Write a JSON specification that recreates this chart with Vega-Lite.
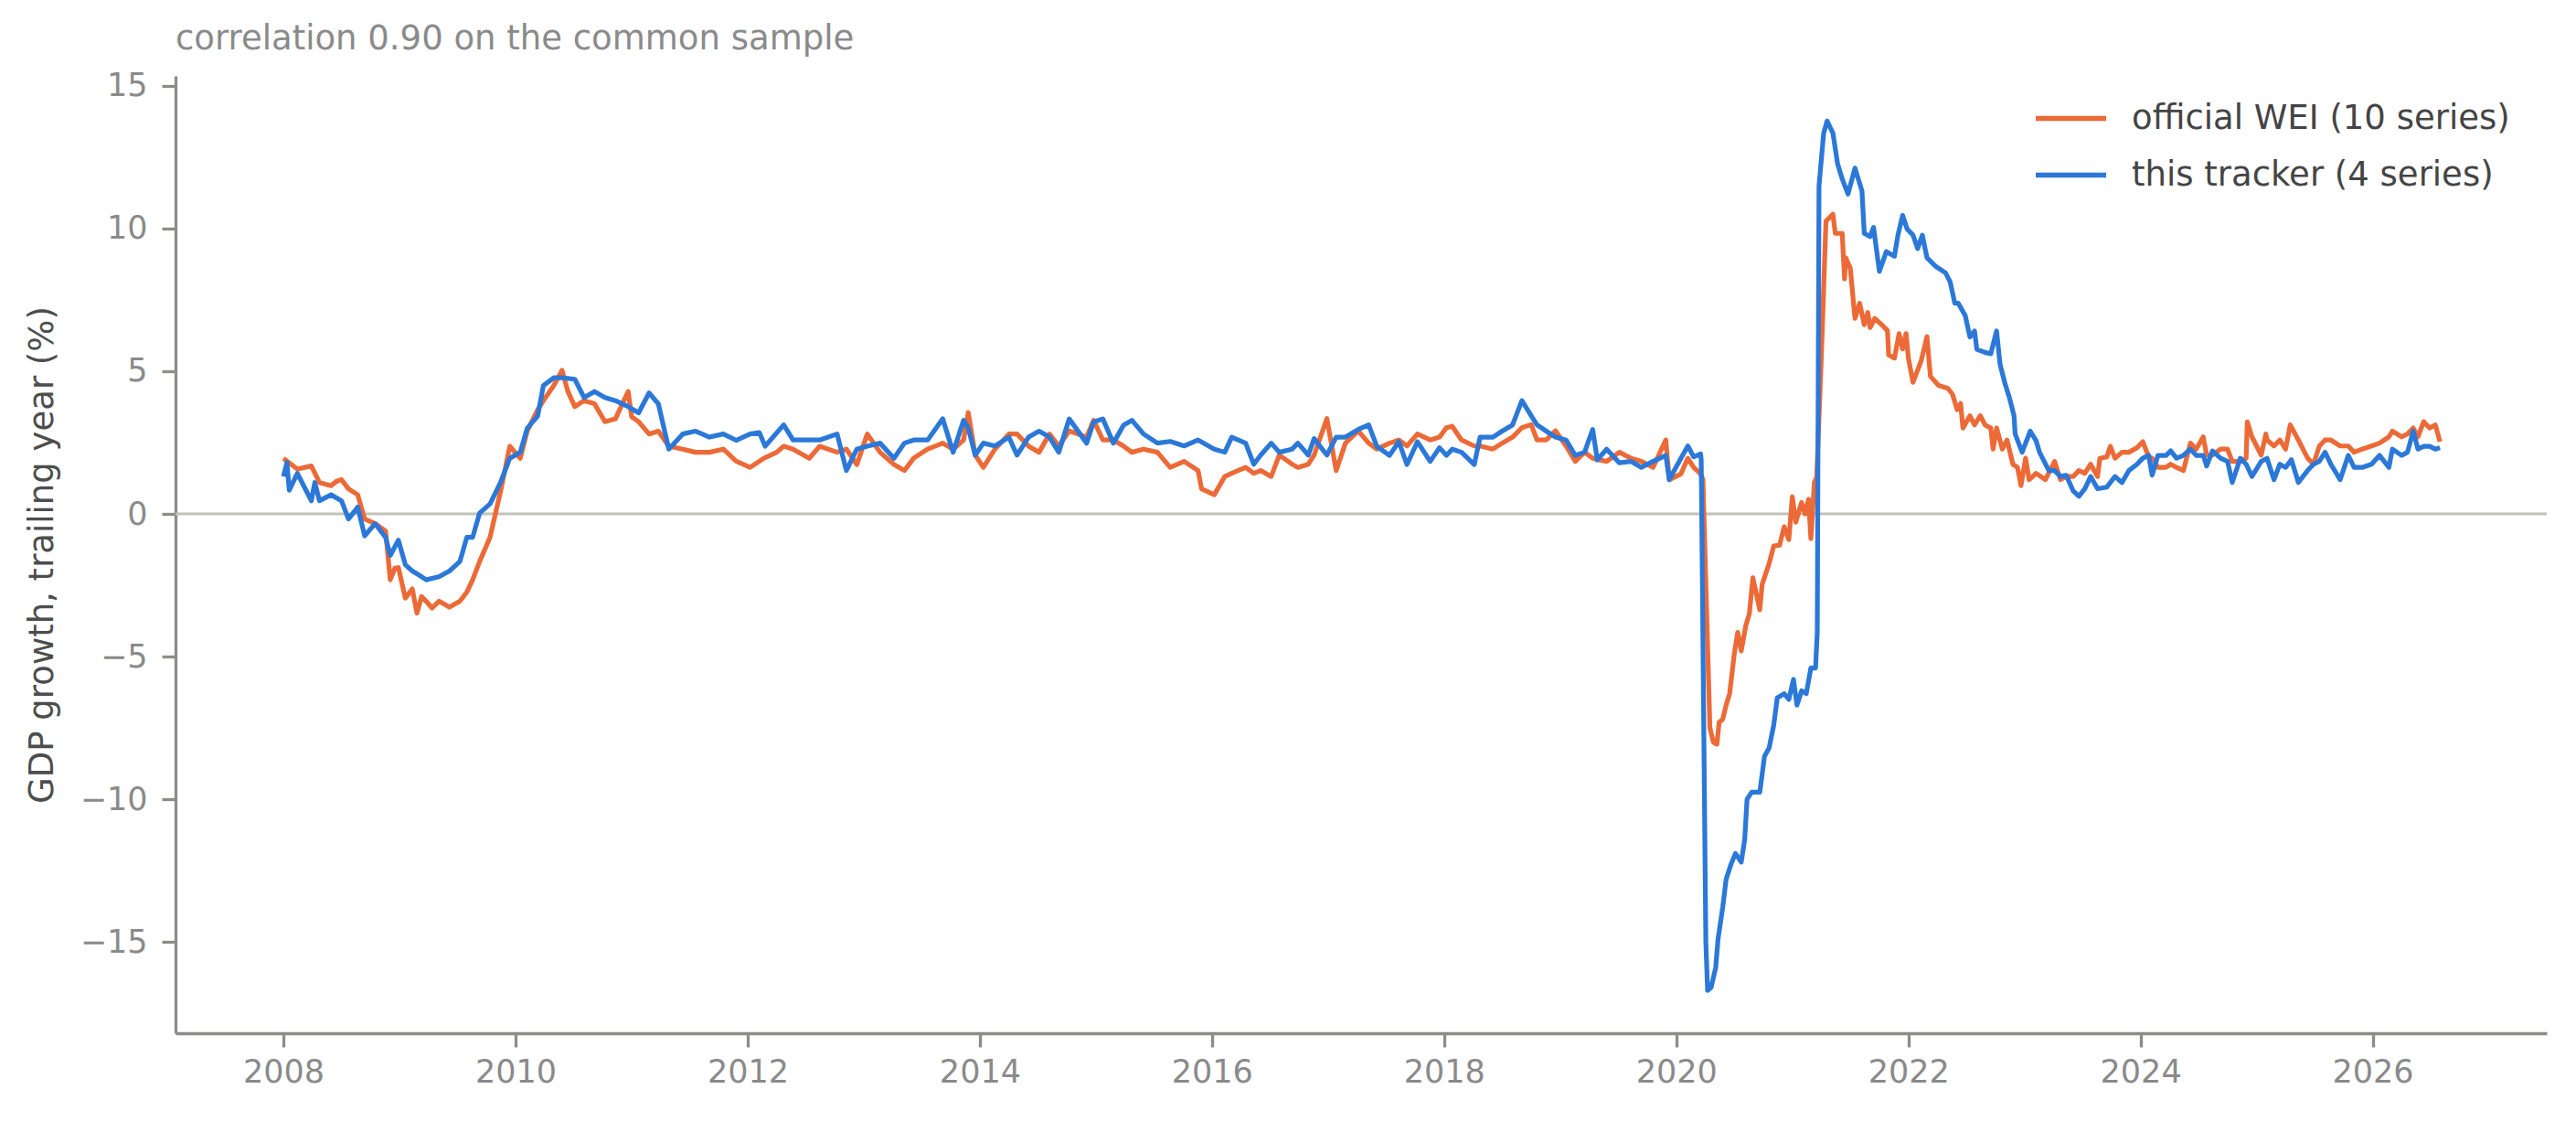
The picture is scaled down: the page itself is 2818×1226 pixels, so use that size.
{
  "$schema": "https://vega.github.io/schema/vega-lite/v6.json",
  "width": 2594,
  "height": 1047,
  "autosize": "none",
  "padding": {"left": 192, "top": 83, "right": 32, "bottom": 96},
  "background": "white",
  "title": {
    "text": "correlation 0.90 on the common sample",
    "anchor": "start",
    "frame": "group",
    "font": "DejaVu Sans",
    "fontSize": 37,
    "fontWeight": "normal",
    "color": "#8a8a8a",
    "offset": 15
  },
  "datasets": {
    "wei": [
      {"t":2008.0,"v":1.95},{"t":2008.03,"v":1.85},{"t":2008.12,"v":1.57},{"t":2008.24,"v":1.68},{"t":2008.31,"v":1.1},{"t":2008.41,"v":0.99},{"t":2008.46,"v":1.15},{"t":2008.5,"v":1.2},{"t":2008.56,"v":0.88},{"t":2008.64,"v":0.67},{"t":2008.7,"v":-0.18},{"t":2008.79,"v":-0.34},{"t":2008.88,"v":-0.6},{"t":2008.92,"v":-2.31},{"t":2008.96,"v":-1.9},{"t":2008.99,"v":-1.88},{"t":2009.05,"v":-2.95},{"t":2009.11,"v":-2.63},{"t":2009.15,"v":-3.48},{"t":2009.19,"v":-2.9},{"t":2009.23,"v":-3.06},{"t":2009.28,"v":-3.3},{"t":2009.34,"v":-3.06},{"t":2009.43,"v":-3.27},{"t":2009.52,"v":-3.06},{"t":2009.58,"v":-2.74},{"t":2009.63,"v":-2.31},{"t":2009.69,"v":-1.67},{"t":2009.78,"v":-0.82},{"t":2009.87,"v":0.78},{"t":2009.95,"v":2.37},{"t":2010.04,"v":1.95},{"t":2010.1,"v":2.9},{"t":2010.19,"v":3.65},{"t":2010.24,"v":3.97},{"t":2010.33,"v":4.5},{"t":2010.4,"v":5.03},{"t":2010.45,"v":4.3},{"t":2010.51,"v":3.76},{"t":2010.59,"v":3.97},{"t":2010.68,"v":3.86},{"t":2010.77,"v":3.23},{"t":2010.86,"v":3.33},{"t":2010.97,"v":4.29},{"t":2011.0,"v":3.4},{"t":2011.06,"v":3.23},{"t":2011.15,"v":2.8},{"t":2011.23,"v":2.9},{"t":2011.32,"v":2.37},{"t":2011.44,"v":2.27},{"t":2011.55,"v":2.16},{"t":2011.67,"v":2.16},{"t":2011.79,"v":2.27},{"t":2011.9,"v":1.85},{"t":2012.02,"v":1.63},{"t":2012.14,"v":1.95},{"t":2012.25,"v":2.16},{"t":2012.31,"v":2.37},{"t":2012.39,"v":2.27},{"t":2012.53,"v":1.95},{"t":2012.62,"v":2.37},{"t":2012.77,"v":2.16},{"t":2012.85,"v":2.27},{"t":2012.94,"v":1.73},{"t":2013.03,"v":2.8},{"t":2013.14,"v":2.16},{"t":2013.26,"v":1.73},{"t":2013.35,"v":1.52},{"t":2013.43,"v":1.95},{"t":2013.55,"v":2.27},{"t":2013.68,"v":2.48},{"t":2013.77,"v":2.27},{"t":2013.86,"v":2.59},{"t":2013.9,"v":3.55},{"t":2013.96,"v":2.06},{"t":2014.03,"v":1.63},{"t":2014.13,"v":2.27},{"t":2014.25,"v":2.8},{"t":2014.32,"v":2.8},{"t":2014.42,"v":2.37},{"t":2014.51,"v":2.16},{"t":2014.6,"v":2.8},{"t":2014.68,"v":2.37},{"t":2014.77,"v":2.91},{"t":2014.92,"v":2.69},{"t":2014.98,"v":3.28},{"t":2015.06,"v":2.59},{"t":2015.15,"v":2.59},{"t":2015.24,"v":2.37},{"t":2015.31,"v":2.16},{"t":2015.41,"v":2.27},{"t":2015.53,"v":2.16},{"t":2015.64,"v":1.63},{"t":2015.76,"v":1.84},{"t":2015.88,"v":1.52},{"t":2015.91,"v":0.88},{"t":2016.02,"v":0.67},{"t":2016.11,"v":1.31},{"t":2016.17,"v":1.42},{"t":2016.29,"v":1.63},{"t":2016.36,"v":1.42},{"t":2016.42,"v":1.52},{"t":2016.51,"v":1.31},{"t":2016.58,"v":2.06},{"t":2016.69,"v":1.74},{"t":2016.74,"v":1.63},{"t":2016.83,"v":1.74},{"t":2016.88,"v":2.06},{"t":2016.99,"v":3.34},{"t":2017.07,"v":1.52},{"t":2017.15,"v":2.48},{"t":2017.26,"v":2.91},{"t":2017.35,"v":2.48},{"t":2017.42,"v":2.27},{"t":2017.53,"v":2.48},{"t":2017.61,"v":2.59},{"t":2017.68,"v":2.38},{"t":2017.77,"v":2.8},{"t":2017.88,"v":2.59},{"t":2017.96,"v":2.69},{"t":2018.02,"v":3.02},{"t":2018.07,"v":3.07},{"t":2018.15,"v":2.59},{"t":2018.26,"v":2.38},{"t":2018.31,"v":2.38},{"t":2018.42,"v":2.27},{"t":2018.5,"v":2.48},{"t":2018.59,"v":2.69},{"t":2018.67,"v":3.02},{"t":2018.75,"v":3.13},{"t":2018.8,"v":2.59},{"t":2018.88,"v":2.59},{"t":2018.96,"v":2.91},{"t":2019.05,"v":2.38},{"t":2019.13,"v":1.84},{"t":2019.21,"v":2.16},{"t":2019.28,"v":1.95},{"t":2019.4,"v":1.84},{"t":2019.51,"v":2.16},{"t":2019.61,"v":1.95},{"t":2019.7,"v":1.84},{"t":2019.8,"v":1.63},{"t":2019.91,"v":2.59},{"t":2019.94,"v":1.2},{"t":2020.04,"v":1.4},{"t":2020.1,"v":1.95},{"t":2020.15,"v":1.63},{"t":2020.21,"v":1.4},{"t":2020.23,"v":1.2},{"t":2020.29,"v":-7.5},{"t":2020.32,"v":-8.0},{"t":2020.35,"v":-8.07},{"t":2020.37,"v":-7.3},{"t":2020.4,"v":-7.2},{"t":2020.43,"v":-6.7},{"t":2020.46,"v":-6.3},{"t":2020.5,"v":-4.9},{"t":2020.53,"v":-4.15},{"t":2020.56,"v":-4.8},{"t":2020.6,"v":-3.9},{"t":2020.63,"v":-3.5},{"t":2020.66,"v":-2.24},{"t":2020.72,"v":-3.36},{"t":2020.74,"v":-2.47},{"t":2020.8,"v":-1.74},{"t":2020.84,"v":-1.12},{"t":2020.89,"v":-1.1},{"t":2020.93,"v":-0.45},{"t":2020.97,"v":-0.9},{"t":2021.0,"v":0.6},{"t":2021.03,"v":-0.29},{"t":2021.08,"v":0.4},{"t":2021.11,"v":0.0},{"t":2021.14,"v":0.51},{"t":2021.16,"v":-0.87},{"t":2021.19,"v":1.1},{"t":2021.21,"v":1.3},{"t":2021.25,"v":5.5},{"t":2021.29,"v":10.26},{"t":2021.35,"v":10.5},{"t":2021.37,"v":9.83},{"t":2021.43,"v":9.83},{"t":2021.45,"v":8.23},{"t":2021.46,"v":8.98},{"t":2021.5,"v":8.6},{"t":2021.53,"v":7.27},{"t":2021.54,"v":6.85},{"t":2021.58,"v":7.38},{"t":2021.62,"v":6.63},{"t":2021.65,"v":7.06},{"t":2021.67,"v":6.53},{"t":2021.71,"v":6.85},{"t":2021.77,"v":6.63},{"t":2021.82,"v":6.42},{"t":2021.83,"v":5.57},{"t":2021.88,"v":5.46},{"t":2021.92,"v":6.32},{"t":2021.95,"v":5.78},{"t":2021.98,"v":6.32},{"t":2022.0,"v":5.46},{"t":2022.04,"v":4.61},{"t":2022.11,"v":5.36},{"t":2022.16,"v":6.21},{"t":2022.19,"v":4.82},{"t":2022.26,"v":4.5},{"t":2022.34,"v":4.4},{"t":2022.38,"v":4.19},{"t":2022.42,"v":3.65},{"t":2022.45,"v":3.87},{"t":2022.47,"v":3.01},{"t":2022.53,"v":3.44},{"t":2022.57,"v":3.12},{"t":2022.62,"v":3.44},{"t":2022.66,"v":3.12},{"t":2022.71,"v":3.01},{"t":2022.73,"v":2.27},{"t":2022.76,"v":3.01},{"t":2022.81,"v":2.27},{"t":2022.85,"v":2.59},{"t":2022.9,"v":1.74},{"t":2022.94,"v":1.63},{"t":2022.97,"v":0.99},{"t":2023.01,"v":1.95},{"t":2023.04,"v":1.2},{"t":2023.1,"v":1.42},{"t":2023.18,"v":1.2},{"t":2023.26,"v":1.84},{"t":2023.31,"v":1.2},{"t":2023.36,"v":1.31},{"t":2023.42,"v":1.31},{"t":2023.47,"v":1.52},{"t":2023.52,"v":1.42},{"t":2023.57,"v":1.74},{"t":2023.63,"v":1.31},{"t":2023.65,"v":1.95},{"t":2023.71,"v":2.0},{"t":2023.74,"v":2.37},{"t":2023.78,"v":1.95},{"t":2023.84,"v":2.16},{"t":2023.9,"v":2.16},{"t":2023.97,"v":2.32},{"t":2024.02,"v":2.53},{"t":2024.07,"v":2.0},{"t":2024.1,"v":1.95},{"t":2024.15,"v":1.63},{"t":2024.22,"v":1.63},{"t":2024.26,"v":1.74},{"t":2024.31,"v":1.63},{"t":2024.37,"v":1.52},{"t":2024.43,"v":2.48},{"t":2024.48,"v":2.27},{"t":2024.54,"v":2.7},{"t":2024.57,"v":2.06},{"t":2024.62,"v":2.06},{"t":2024.69,"v":2.27},{"t":2024.75,"v":2.27},{"t":2024.79,"v":1.84},{"t":2024.86,"v":1.84},{"t":2024.91,"v":1.95},{"t":2024.92,"v":3.23},{"t":2024.96,"v":2.7},{"t":2025.04,"v":2.06},{"t":2025.08,"v":2.8},{"t":2025.09,"v":2.59},{"t":2025.15,"v":2.38},{"t":2025.2,"v":2.59},{"t":2025.25,"v":2.27},{"t":2025.29,"v":3.12},{"t":2025.36,"v":2.59},{"t":2025.44,"v":1.95},{"t":2025.49,"v":1.74},{"t":2025.54,"v":2.37},{"t":2025.59,"v":2.59},{"t":2025.64,"v":2.59},{"t":2025.72,"v":2.38},{"t":2025.79,"v":2.38},{"t":2025.84,"v":2.16},{"t":2025.91,"v":2.27},{"t":2025.99,"v":2.38},{"t":2026.06,"v":2.48},{"t":2026.14,"v":2.7},{"t":2026.17,"v":2.9},{"t":2026.25,"v":2.7},{"t":2026.3,"v":2.8},{"t":2026.35,"v":3.01},{"t":2026.39,"v":2.7},{"t":2026.44,"v":3.23},{"t":2026.49,"v":3.01},{"t":2026.54,"v":3.12},{"t":2026.58,"v":2.53}
    ],
    "trk": [
      {"t":2008.0,"v":1.31},{"t":2008.03,"v":1.8},{"t":2008.05,"v":0.83},{"t":2008.12,"v":1.42},{"t":2008.24,"v":0.46},{"t":2008.27,"v":1.1},{"t":2008.31,"v":0.46},{"t":2008.41,"v":0.67},{"t":2008.5,"v":0.46},{"t":2008.56,"v":-0.18},{"t":2008.64,"v":0.24},{"t":2008.7,"v":-0.77},{"t":2008.79,"v":-0.34},{"t":2008.88,"v":-0.82},{"t":2008.92,"v":-1.46},{"t":2008.99,"v":-0.92},{"t":2009.05,"v":-1.78},{"t":2009.11,"v":-2.0},{"t":2009.15,"v":-2.1},{"t":2009.23,"v":-2.31},{"t":2009.34,"v":-2.2},{"t":2009.43,"v":-2.0},{"t":2009.52,"v":-1.67},{"t":2009.58,"v":-0.82},{"t":2009.63,"v":-0.82},{"t":2009.69,"v":0.03},{"t":2009.78,"v":0.35},{"t":2009.87,"v":1.1},{"t":2009.95,"v":1.95},{"t":2010.04,"v":2.16},{"t":2010.1,"v":3.0},{"t":2010.19,"v":3.43},{"t":2010.24,"v":4.5},{"t":2010.33,"v":4.77},{"t":2010.4,"v":4.77},{"t":2010.51,"v":4.72},{"t":2010.59,"v":4.08},{"t":2010.68,"v":4.29},{"t":2010.77,"v":4.08},{"t":2010.86,"v":3.97},{"t":2010.97,"v":3.76},{"t":2011.06,"v":3.54},{"t":2011.15,"v":4.24},{"t":2011.23,"v":3.86},{"t":2011.32,"v":2.27},{"t":2011.44,"v":2.8},{"t":2011.55,"v":2.9},{"t":2011.67,"v":2.69},{"t":2011.79,"v":2.8},{"t":2011.9,"v":2.58},{"t":2012.02,"v":2.8},{"t":2012.1,"v":2.85},{"t":2012.15,"v":2.37},{"t":2012.31,"v":3.12},{"t":2012.39,"v":2.59},{"t":2012.53,"v":2.59},{"t":2012.62,"v":2.59},{"t":2012.77,"v":2.8},{"t":2012.85,"v":1.52},{"t":2012.94,"v":2.27},{"t":2013.03,"v":2.37},{"t":2013.14,"v":2.48},{"t":2013.26,"v":1.95},{"t":2013.35,"v":2.48},{"t":2013.43,"v":2.59},{"t":2013.55,"v":2.59},{"t":2013.68,"v":3.33},{"t":2013.77,"v":2.16},{"t":2013.86,"v":3.28},{"t":2013.9,"v":3.01},{"t":2013.96,"v":2.06},{"t":2014.03,"v":2.48},{"t":2014.13,"v":2.38},{"t":2014.25,"v":2.69},{"t":2014.32,"v":2.06},{"t":2014.42,"v":2.69},{"t":2014.51,"v":2.9},{"t":2014.6,"v":2.69},{"t":2014.68,"v":2.16},{"t":2014.77,"v":3.33},{"t":2014.92,"v":2.48},{"t":2014.98,"v":3.22},{"t":2015.06,"v":3.33},{"t":2015.15,"v":2.48},{"t":2015.24,"v":3.12},{"t":2015.31,"v":3.28},{"t":2015.41,"v":2.8},{"t":2015.53,"v":2.48},{"t":2015.64,"v":2.54},{"t":2015.76,"v":2.38},{"t":2015.88,"v":2.59},{"t":2016.02,"v":2.27},{"t":2016.11,"v":2.16},{"t":2016.17,"v":2.69},{"t":2016.29,"v":2.48},{"t":2016.36,"v":1.74},{"t":2016.42,"v":2.06},{"t":2016.51,"v":2.48},{"t":2016.58,"v":2.16},{"t":2016.69,"v":2.27},{"t":2016.74,"v":2.48},{"t":2016.83,"v":2.06},{"t":2016.88,"v":2.64},{"t":2016.99,"v":2.06},{"t":2017.07,"v":2.69},{"t":2017.15,"v":2.69},{"t":2017.26,"v":2.96},{"t":2017.35,"v":3.12},{"t":2017.42,"v":2.37},{"t":2017.53,"v":2.05},{"t":2017.61,"v":2.53},{"t":2017.68,"v":1.73},{"t":2017.77,"v":2.53},{"t":2017.88,"v":1.84},{"t":2017.96,"v":2.32},{"t":2018.02,"v":2.05},{"t":2018.07,"v":2.27},{"t":2018.15,"v":2.16},{"t":2018.26,"v":1.73},{"t":2018.31,"v":2.69},{"t":2018.42,"v":2.69},{"t":2018.5,"v":2.9},{"t":2018.59,"v":3.12},{"t":2018.67,"v":3.97},{"t":2018.75,"v":3.44},{"t":2018.8,"v":3.12},{"t":2018.88,"v":2.9},{"t":2018.96,"v":2.69},{"t":2019.05,"v":2.59},{"t":2019.13,"v":2.05},{"t":2019.21,"v":2.16},{"t":2019.28,"v":2.96},{"t":2019.32,"v":1.89},{"t":2019.4,"v":2.27},{"t":2019.51,"v":1.79},{"t":2019.61,"v":1.84},{"t":2019.7,"v":1.63},{"t":2019.8,"v":1.84},{"t":2019.91,"v":2.05},{"t":2019.94,"v":1.2},{"t":2020.04,"v":1.95},{"t":2020.1,"v":2.38},{"t":2020.15,"v":2.0},{"t":2020.21,"v":2.1},{"t":2020.215,"v":1.9},{"t":2020.255,"v":-15.0},{"t":2020.27,"v":-16.7},{"t":2020.3,"v":-16.6},{"t":2020.34,"v":-15.9},{"t":2020.36,"v":-14.9},{"t":2020.4,"v":-13.8},{"t":2020.43,"v":-12.8},{"t":2020.47,"v":-12.3},{"t":2020.51,"v":-11.9},{"t":2020.56,"v":-12.2},{"t":2020.59,"v":-11.4},{"t":2020.61,"v":-10.0},{"t":2020.65,"v":-9.75},{"t":2020.72,"v":-9.75},{"t":2020.76,"v":-8.5},{"t":2020.8,"v":-8.2},{"t":2020.84,"v":-7.4},{"t":2020.87,"v":-6.45},{"t":2020.93,"v":-6.3},{"t":2020.97,"v":-6.5},{"t":2021.01,"v":-5.8},{"t":2021.04,"v":-6.7},{"t":2021.08,"v":-6.2},{"t":2021.12,"v":-6.3},{"t":2021.16,"v":-5.4},{"t":2021.2,"v":-5.4},{"t":2021.215,"v":-4.15},{"t":2021.23,"v":11.5},{"t":2021.27,"v":13.34},{"t":2021.3,"v":13.77},{"t":2021.35,"v":13.34},{"t":2021.39,"v":12.27},{"t":2021.43,"v":11.74},{"t":2021.48,"v":11.21},{"t":2021.54,"v":12.12},{"t":2021.6,"v":11.32},{"t":2021.62,"v":9.83},{"t":2021.67,"v":9.72},{"t":2021.7,"v":10.04},{"t":2021.75,"v":8.5},{"t":2021.81,"v":9.19},{"t":2021.88,"v":9.03},{"t":2021.91,"v":9.77},{"t":2021.95,"v":10.46},{"t":2021.99,"v":9.98},{"t":2022.04,"v":9.77},{"t":2022.08,"v":9.3},{"t":2022.12,"v":9.77},{"t":2022.16,"v":8.98},{"t":2022.24,"v":8.66},{"t":2022.32,"v":8.45},{"t":2022.36,"v":8.13},{"t":2022.4,"v":7.38},{"t":2022.43,"v":7.38},{"t":2022.49,"v":6.95},{"t":2022.53,"v":6.2},{"t":2022.57,"v":6.41},{"t":2022.59,"v":5.77},{"t":2022.66,"v":5.66},{"t":2022.71,"v":5.61},{"t":2022.76,"v":6.41},{"t":2022.79,"v":5.24},{"t":2022.83,"v":4.6},{"t":2022.87,"v":4.08},{"t":2022.91,"v":3.44},{"t":2022.92,"v":2.8},{"t":2022.98,"v":2.16},{"t":2023.05,"v":2.9},{"t":2023.1,"v":2.57},{"t":2023.13,"v":2.16},{"t":2023.21,"v":1.52},{"t":2023.26,"v":1.52},{"t":2023.31,"v":1.31},{"t":2023.36,"v":1.35},{"t":2023.42,"v":0.8},{"t":2023.47,"v":0.62},{"t":2023.52,"v":0.88},{"t":2023.57,"v":1.31},{"t":2023.63,"v":0.88},{"t":2023.71,"v":0.94},{"t":2023.74,"v":1.1},{"t":2023.78,"v":1.31},{"t":2023.84,"v":1.1},{"t":2023.9,"v":1.52},{"t":2023.97,"v":1.74},{"t":2024.02,"v":1.95},{"t":2024.07,"v":2.05},{"t":2024.1,"v":1.36},{"t":2024.15,"v":2.05},{"t":2024.22,"v":2.05},{"t":2024.26,"v":2.21},{"t":2024.31,"v":1.95},{"t":2024.37,"v":2.05},{"t":2024.43,"v":2.27},{"t":2024.48,"v":2.05},{"t":2024.54,"v":2.05},{"t":2024.57,"v":1.68},{"t":2024.62,"v":2.21},{"t":2024.69,"v":1.95},{"t":2024.75,"v":1.84},{"t":2024.79,"v":1.1},{"t":2024.86,"v":1.95},{"t":2024.91,"v":1.74},{"t":2024.96,"v":1.31},{"t":2025.04,"v":1.84},{"t":2025.09,"v":1.95},{"t":2025.15,"v":1.2},{"t":2025.2,"v":1.74},{"t":2025.25,"v":1.63},{"t":2025.3,"v":1.9},{"t":2025.36,"v":1.1},{"t":2025.44,"v":1.52},{"t":2025.49,"v":1.74},{"t":2025.54,"v":1.84},{"t":2025.59,"v":2.16},{"t":2025.64,"v":1.74},{"t":2025.72,"v":1.2},{"t":2025.79,"v":2.05},{"t":2025.84,"v":1.63},{"t":2025.91,"v":1.63},{"t":2025.99,"v":1.74},{"t":2026.06,"v":2.05},{"t":2026.14,"v":1.63},{"t":2026.17,"v":2.27},{"t":2026.25,"v":2.05},{"t":2026.3,"v":2.16},{"t":2026.35,"v":2.9},{"t":2026.39,"v":2.27},{"t":2026.44,"v":2.37},{"t":2026.49,"v":2.37},{"t":2026.54,"v":2.27},{"t":2026.58,"v":2.32}
    ]
  },
  "encoding": {
    "x": {
      "field": "t",
      "type": "quantitative",
      "scale": {"domain": [2007.07, 2027.5], "nice": false, "zero": false},
      "axis": {
        "title": null,
        "values": [2008, 2010, 2012, 2014, 2016, 2018, 2020, 2022, 2024, 2026],
        "format": "d"
      }
    },
    "y": {
      "field": "v",
      "type": "quantitative",
      "scale": {"domain": [-18.2, 15.35], "nice": false, "zero": false},
      "axis": {
        "title": "GDP growth, trailing year (%)",
        "values": [-15, -10, -5, 0, 5, 10, 15],
        "labelExpr": "replace(datum.label, '-', '−')"
      }
    }
  },
  "layer": [
    {
      "data": {"values": [{"z": 0}]},
      "mark": {"type": "rule", "color": "#c2c2b6", "strokeWidth": 3},
      "encoding": {"x": null, "y": {"field": "z", "type": "quantitative"}}
    },
    {
      "data": {"name": "wei"},
      "mark": {"type": "line", "strokeWidth": 5.2, "strokeJoin": "round"},
      "encoding": {
        "color": {
          "datum": "official WEI (10 series)",
          "scale": {
            "domain": ["official WEI (10 series)", "this tracker (4 series)"],
            "range": ["#ec6a37", "#2b78d8"]
          },
          "legend": {
            "title": null,
            "orient": "none",
            "legendX": 2032,
            "legendY": 5,
            "symbolType": "stroke",
            "symbolSize": 5929,
            "symbolStrokeWidth": 5.5,
            "labelFont": "DejaVu Sans",
            "labelFontSize": 37,
            "labelColor": "#444444",
            "labelOffset": 25,
            "labelLimit": 1000
          }
        }
      }
    },
    {
      "data": {"name": "trk"},
      "mark": {"type": "line", "strokeWidth": 5.2, "strokeJoin": "round"},
      "encoding": {"color": {"datum": "this tracker (4 series)"}}
    }
  ],
  "config": {
    "view": {"stroke": null},
    "font": "DejaVu Sans",
    "axis": {
      "grid": false,
      "labelFont": "DejaVu Sans",
      "labelFontSize": 35,
      "labelColor": "#8a8a8a",
      "domainColor": "#8c8c88",
      "domainWidth": 3.3,
      "tickColor": "#8c8c88",
      "tickWidth": 3.3,
      "tickSize": 15,
      "titleFont": "DejaVu Sans",
      "titleFontSize": 37,
      "titleFontWeight": "normal",
      "titleColor": "#4d4d4d"
    },
    "axisX": {"labelPadding": 10},
    "axisY": {"labelPadding": 16, "titlePadding": 22}
  }
}
